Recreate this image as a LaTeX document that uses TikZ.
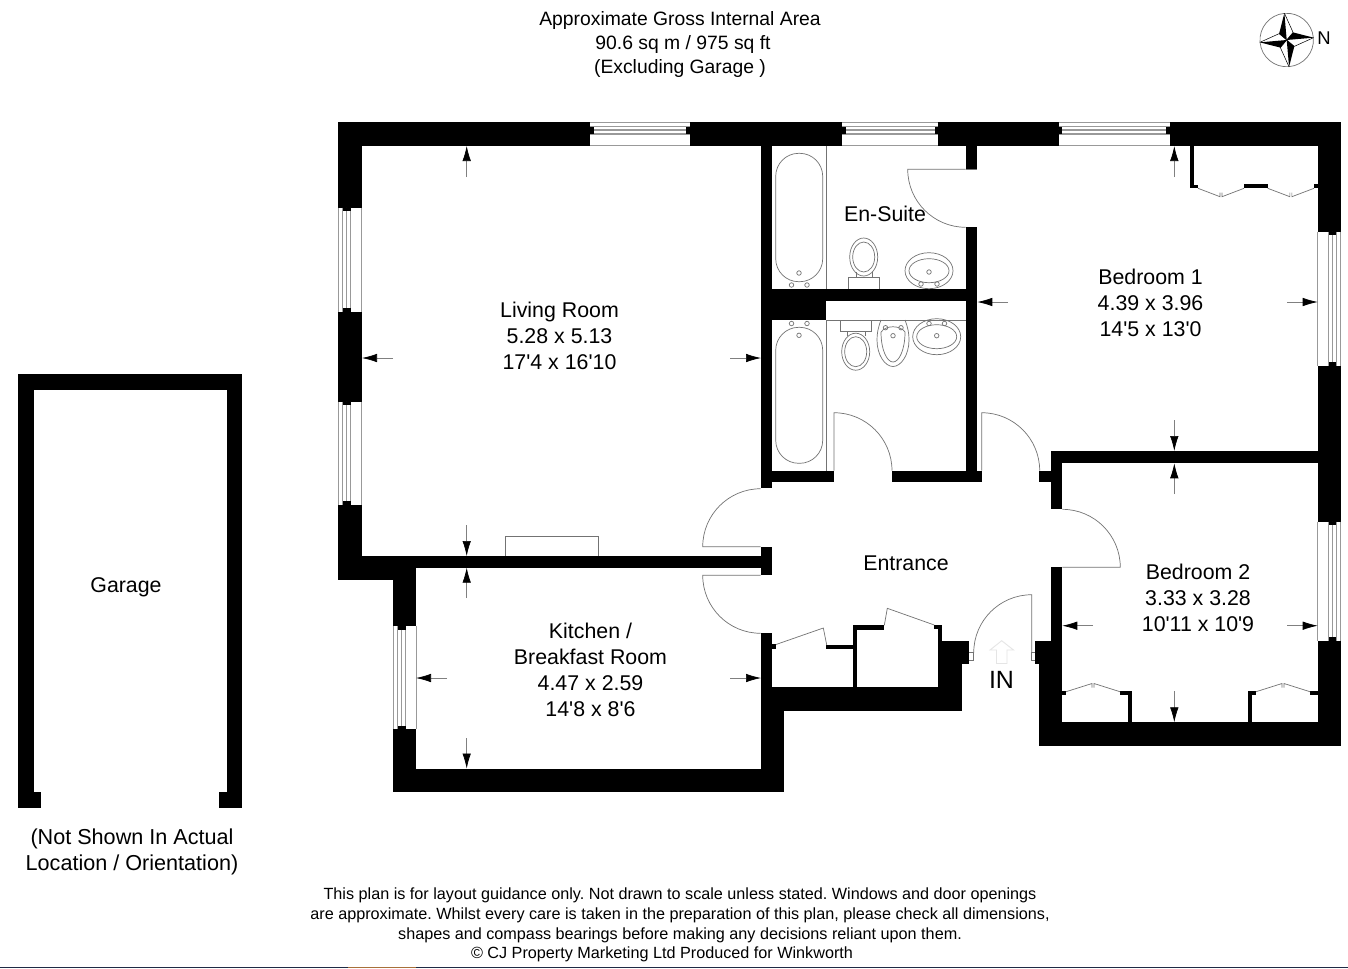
\documentclass[tikz,border=0pt]{standalone}
\usepackage{fontspec}
\setmainfont{Liberation Sans}
\usetikzlibrary{arrows.meta}
\definecolor{fixline}{gray}{0.45}
\definecolor{edgenavy}{HTML}{1F2A44}
\definecolor{edgebrown}{HTML}{A8703A}
\newcommand{\ft}{\textquotesingle}
\tikzset{
  roomlabel/.style={align=center, font=\fontsize{12.15}{14.8}\selectfont},
  notelabel/.style={align=center, font=\fontsize{12.3}{14.8}\selectfont},
  headlabel/.style={align=center, font=\fontsize{11}{13.5}\selectfont},
  footlabel/.style={align=center, font=\fontsize{9.22}{11.25}\selectfont\frenchspacing},
  fixture/.style={draw=fixline, line width=0.4pt},
  winline/.style={draw=black!40, line width=0.6pt},
  dimline/.style={draw=black!50, line width=0.4pt, -{Latex[length=0.3cm,width=0.17cm,black]}}
}
\begin{document}
\begin{tikzpicture}[x=0.02cm,y=-0.02cm]
  \useasboundingbox (0,0) rectangle (1348,968);
  \fill[white] (0,0) rectangle (1348,968);

% Draw main walls
\foreach \xa/\ya/\xb/\yb in {338/122/1341/146, 338/146/362/579.5, 338/556/772/567.5, 338/556/416/579.5,
    393/556/416/792, 393/769/784/792, 761/633.3/772.3/711, 761/687.3/784/792, 761/687.3/962/711,
    938.3/640.7/962/711, 938.3/640.7/969.3/664, 761/146/772.3/488.3, 761/470.7/834/481.7,
    892/470.7/981.7/481.7, 761/289/977.3/301, 761/289/826/320, 965.7/146/977.3/169.3,
    965.7/226.7/977.3/481.7, 761/546.7/772.3/575.3, 1050.7/451/1341/463.3, 1050.7/451/1062.3/509.3,
    1039.3/470.7/1051/481.7, 1050.7/567.3/1062.3/664, 1035/640.7/1062.3/664, 1039/664/1062.3/746,
    1039/722.3/1341/746, 1317.7/122/1341/746} {
  \fill (\xa,\ya) rectangle (\xb,\yb);
}

% Thin cupboard walls
\foreach \xa/\ya/\xb/\yb in {934.3/625.3/942.3/629.3, 938.3/625.3/942.3/641, 853.3/626/857.3/687.3,
    853.3/625.3/884.3/630, 826/645/853.3/649, 772/644.3/776/649,
    1190/146/1194/188.3, 1190/184.5/1198/188.3, 1244/184/1267.7/188.3, 1314/184/1318/188.3,
    1128.3/691.3/1132/722.3, 1120/691.3/1132/695, 1062/691.3/1066/695,
    1248.3/691.3/1252/722.3, 1248.3/691.3/1256/695, 1310/691.3/1318/695} {
  \fill (\xa,\ya) rectangle (\xb,\yb);
}

% Garage
\fill (17.5,374) rectangle (242.3,390);
\fill (17.5,374) rectangle (33.5,807.5);
\fill (226.7,374) rectangle (242.3,807.5);
\fill (17.5,791.7) rectangle (41.3,807.5);
\fill (218.7,791.7) rectangle (242.3,807.5);

% Windows
\foreach \a/\b in {590/690, 842.3/938.3, 1058.5/1170} {
  \fill[white] (\a,122) rectangle (\b,146);
  \foreach \y in {122.7,126.7,130,134,145.3} {
    \draw[winline] (\a,\y) -- (\b,\y);
  }
  \fill (\a,126.7) rectangle (\a+3.7,134);
  \fill (\b-3.7,126.7) rectangle (\b,134);
}
\foreach \o/\s/\a/\b in {338/1/207.7/311.7, 338/1/401.7/505, 393/1/626/729.3, 1341/-1/231.7/366, 1341/-1/521.7/640.7} {
  \fill[white] (\o,\a) rectangle (\o+\s*23.5,\b);
  \foreach \d in {0.6,4.7,8.5,12.5,23.2} {
    \draw[winline] (\o+\s*\d,\a) -- (\o+\s*\d,\b);
  }
  \fill (\o+\s*4.7,\a) rectangle (\o+\s*12.5,\a+3.7);
  \fill (\o+\s*4.7,\b-3.7) rectangle (\o+\s*12.5,\b);
}

% Door leaves and swings
\foreach \cx/\cy/\s/\e in {834/470.7/90/0, 981.7/470.7/90/0, 965.7/169.3/180/270, 760.7/546.7/180/90,
    760.7/575.3/180/270, 1062.3/567.3/0/90, 1031.7/652.7/90/180} {
  \draw[fixture] (\cx,\cy) -- ++(\s:1.16cm) arc[start angle=\s, end angle=\e, radius=1.16cm];
}
\draw[fixture] (965.7,169.3) -- (977.3,169.3);
\draw[fixture] (969.3,652.7) -- (973.5,652.7) -- (973.5,660.7) -- (969.3,660.7);
\draw[fixture] (1035,652.7) -- (1031.7,652.7) -- (1031.7,660.7) -- (1035,660.7);

% Cupboard doors
\draw[fixture] (776,644.5) -- (823.3,628) -- (826.7,645);
\draw[fixture] (934.3,625) -- (887.3,608.3) -- (884.3,625.3);
\foreach \a/\b/\y/\t in {1198/1244/188.3/196.7, 1267.7/1314/188.3/196.7} {
  \draw[fixture] (\a,\y) -- ({(\a+\b)/2-1},\t) -- ({(\a+\b)/2-1},\t-4);
  \draw[fixture] ({(\a+\b)/2+1},\t-4) -- ({(\a+\b)/2+1},\t) -- (\b,\y);
}
\foreach \a/\b/\y/\t in {1066/1120/691.7/683.5, 1256/1310/691.7/683.5} {
  \draw[fixture] (\a,\y) -- ({(\a+\b)/2-1},\t) -- ({(\a+\b)/2-1},\t+4);
  \draw[fixture] ({(\a+\b)/2+1},\t+4) -- ({(\a+\b)/2+1},\t) -- (\b,\y);
}

% Fireplace
\draw[fixture] (505,556) -- (505,536.7) -- (598.3,536.7) -- (598.3,556);

% Bathroom fittings
\draw[fixture] (826,146) -- (826,289);
\draw[fixture] (826,320) -- (826,470.7);
\draw[fixture] (826,320) -- (965.7,320);
\draw[fixture, rounded corners=0.46cm] (775.7,153.3) rectangle (822.7,281.7);
\draw[fixture, rounded corners=0.46cm] (775.7,327.3) rectangle (822.7,463.3);
\foreach \x/\y in {799/273, 791.5/285, 807/285, 799/335.3, 791.5/323.5, 807/323.5,
    929/272, 921/284, 937/284, 936.7/335.7, 929/323.5, 944.5/323.5, 893/335.7, 885.5/327.7, 901/327.7} {
  \draw[fixture] (\x,\y) circle[radius=0.045cm];
}
% toilets
\draw[fixture] (848,289) -- (848,277.3) -- (879.3,277.3) -- (879.3,289);
\draw[fixture] (856,277.3) -- (856,272) (872,277.3) -- (872,272);
\draw[fixture] (863.7,257) ellipse[x radius=14, y radius=19];
\draw[fixture] (863.7,257) ellipse[x radius=11, y radius=15];
\draw[fixture] (840,320) -- (840,331.7) -- (871.7,331.7) -- (871.7,320);
\draw[fixture] (847,331.7) -- (847,336) (865,331.7) -- (865,336);
\draw[fixture] (855.7,351.7) ellipse[x radius=14, y radius=18.5];
\draw[fixture] (855.7,351.7) ellipse[x radius=11, y radius=15];
% basins
\draw[fixture] (929,270.7) ellipse[x radius=24, y radius=18];
\draw[fixture] (929,270.7) ellipse[x radius=20, y radius=12];
\draw[fixture] (936.7,336.7) ellipse[x radius=24, y radius=18];
\draw[fixture] (936.7,336.7) ellipse[x radius=20, y radius=12];
% bidet
\draw[fixture] (881,320) .. controls (878,328) and (877,333) .. (877,340)
   .. controls (877,355) and (885,366.5) .. (893,366.5) .. controls (901,366.5) and (909,355) .. (909,340)
   .. controls (909,333) and (908,328) .. (905,320);
\draw[fixture] (881,332) .. controls (881,350) and (887,362) .. (893,362)
   .. controls (899,362) and (905,350) .. (905,332) .. controls (900,325) and (886,325) .. (881,332);

% Dimension arrows
\foreach \xa/\ya/\xb/\yb in {466.7/177/466.7/146, 393/358/362/358, 730/358/761/358, 466.7/525/466.7/556,
    466.7/598/466.7/567.7, 447/678/416/678, 730/678/761/678, 466.7/738/466.7/768.5,
    1174.3/177/1174.3/146, 1008/302/977.3/302, 1287/302/1317.7/302, 1174.3/420/1174.3/451,
    1174.3/494/1174.3/463.3, 1093/625.7/1062.3/625.7, 1287/625.7/1317.7/625.7, 1174.3/691/1174.3/722.3} {
  \draw[dimline] (\xa,\ya) -- (\xb,\yb);
}

% Entrance arrow
\draw[black!10, line width=0.5pt] (996.5,663.5) -- (996.5,650) -- (990,650) -- (1001.7,640.7) -- (1013.5,650) -- (1007,650) -- (1007,663.5) -- cycle;

% Compass
\begin{scope}[shift={(1286.7,40)}, rotate=5]
  \draw[fixture] (0,0) circle[radius=0.535cm];
  \foreach \r in {0,90,180,270} {
    \begin{scope}[rotate=\r]
      \fill (0,-27) -- (-7,-7) -- (0,0) -- cycle;
      \draw[line width=0.3pt] (0,-27) -- (7,-7) -- (0,0);
    \end{scope}
  }
\end{scope}
\node[font=\fontsize{10.5}{12}\selectfont] (north) at (1324,38.5) {N};

% Labels
\node[headlabel] (area) at (680,44.5) {Approximate Gross Internal Area\\\hspace*{3.4pt}90.6 sq m / 975 sq ft\\(Excluding Garage )};
\node[roomlabel] (living) at (559.5,336) {Living Room\\5.28 x 5.13\\17\ft4 x 16\ft10};
\node[roomlabel] (kitchen) at (590.5,669.5) {Kitchen /\\Breakfast Room\\4.47 x 2.59\\14\ft8 x 8\ft6};
\node[roomlabel] (bedone) at (1150.5,303) {Bedroom 1\\4.39 x 3.96\\14\ft5 x 13\ft0};
\node[roomlabel] (bedtwo) at (1198,597.5) {Bedroom 2\\3.33 x 3.28\\10\ft11 x 10\ft9};
\node[roomlabel] (ensuite) at (885,214) {En-Suite};
\node[roomlabel] (entrance) at (906,563.5) {Entrance};
\node[font=\fontsize{14.2}{17}\selectfont] (inlabel) at (1001.5,680) {IN};
\node[roomlabel] (garage) at (126,587) {Garage};
\node[notelabel] (garagenote) at (132,851.5) {(Not Shown In Actual\\Location / Orientation)};
\node[footlabel] (disclaimer) at (680,925) {This plan is for layout guidance only. Not drawn to scale unless stated. Windows and door openings\\are approximate. Whilst every care is taken in the preparation of this plan, please check all dimensions,\\shapes and compass bearings before making any decisions reliant upon them.\\© CJ Property Marketing Ltd Produced for Winkworth\hspace*{20.5pt}};

% Bottom edge of the sheet
\fill[edgenavy] (0,966.8) rectangle (1348,968);
\fill[edgebrown] (348,966.8) rectangle (416,968);
\end{tikzpicture}
\end{document}
